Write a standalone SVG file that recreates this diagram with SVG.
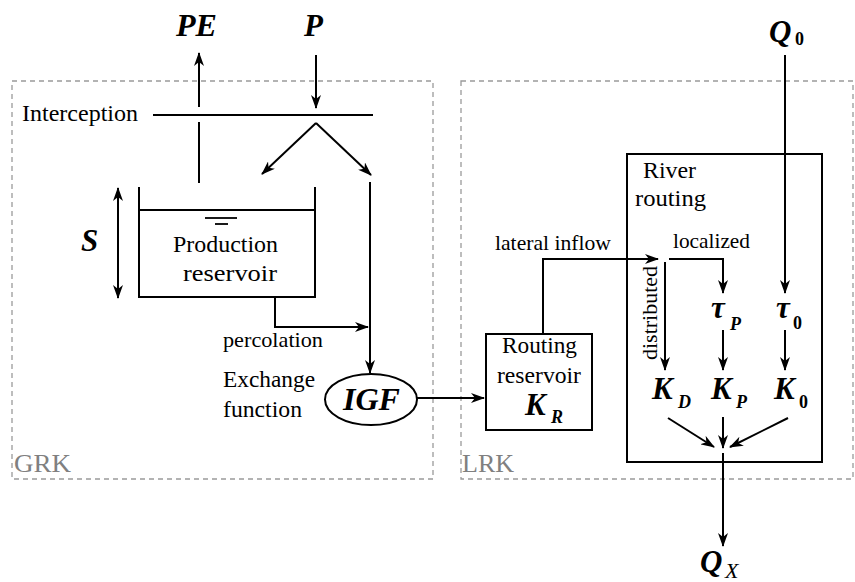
<svg xmlns="http://www.w3.org/2000/svg" width="855" height="582" viewBox="0 0 855 582">
<style>
text{font-family:"Liberation Serif","DejaVu Serif","Noto Serif",serif}
.t{font-size:24px;fill:#000}
.s{font-size:22px;fill:#000}
.m{font-size:31px;font-weight:bold;font-style:italic;fill:#000}
.sub{font-size:18px;font-weight:bold;font-style:italic;fill:#000}
.subn{font-size:18px;font-weight:bold;fill:#000}
.xi{font-size:22px;font-style:italic;fill:#000}
.g{font-size:26px;fill:#808080}
.dash{fill:none;stroke:#9a9a9a;stroke-width:1.3;stroke-dasharray:5,4}
.ln{fill:none;stroke:#000;stroke-width:2}
.box{fill:#fff;stroke:#000;stroke-width:2}
.ar{fill:none;stroke:#000;stroke-width:2;marker-end:url(#ah)}
</style>
<defs>
<marker id="ah" viewBox="0 0 14 10" refX="13" refY="5" markerWidth="14" markerHeight="10" markerUnits="userSpaceOnUse" orient="auto-start-reverse">
<path d="M0,0 L14,5 L0,10 L4,5 Z" fill="#000"/>
</marker>
</defs>
<rect width="855" height="582" fill="#fff"/>

<g id="GRK">
<rect class="dash" x="12" y="81" width="421" height="398"/>
<text class="g" x="14" y="472" textLength="57" lengthAdjust="spacingAndGlyphs">GRK</text>
</g>
<g id="LRK">
<rect class="dash" x="461" y="81" width="392" height="398"/>
<text class="g" x="462" y="472" textLength="52" lengthAdjust="spacingAndGlyphs">LRK</text>
</g>

<g id="PE"><text class="m" x="176" y="36" textLength="41" lengthAdjust="spacingAndGlyphs">PE</text></g>
<g id="P"><text class="m" x="304" y="36">P</text></g>
<g id="Q0"><text class="m" x="769" y="42">Q</text><text class="subn" x="795" y="45">0</text></g>

<g id="interception">
<text class="t" x="22" y="121" textLength="116" lengthAdjust="spacingAndGlyphs">Interception</text>
<line class="ln" x1="153" y1="115" x2="373" y2="115"/>
</g>

<g id="production-reservoir">
<polyline class="ln" points="139,187 139,297 315,297 315,187"/>
<line class="ln" x1="139" y1="210" x2="315" y2="210"/>
<line x1="205" y1="218" x2="237" y2="218" stroke="#000" stroke-width="1.8"/>
<line x1="215" y1="224" x2="228" y2="224" stroke="#000" stroke-width="1.8"/>
<text class="t" x="173" y="252" textLength="105" lengthAdjust="spacingAndGlyphs">Production</text>
<text class="t" x="183" y="281" textLength="94" lengthAdjust="spacingAndGlyphs">reservoir</text>
</g>

<g id="S"><text class="m" x="81" y="251">S</text></g>

<g id="IGF">
<ellipse cx="371" cy="399.5" rx="46" ry="25.5" class="box"/>
<text class="m" x="343" y="410" textLength="57" lengthAdjust="spacingAndGlyphs">IGF</text>
<text class="t" x="223" y="387" textLength="92" lengthAdjust="spacingAndGlyphs">Exchange</text>
<text class="t" x="223" y="417" textLength="79" lengthAdjust="spacingAndGlyphs">function</text>
</g>

<g id="routing-reservoir">
<rect class="box" x="486" y="334" width="106" height="96"/>
<text class="t" x="502" y="353" textLength="75" lengthAdjust="spacingAndGlyphs">Routing</text>
<text class="t" x="497" y="383" textLength="84" lengthAdjust="spacingAndGlyphs">reservoir</text>
<text class="m" x="525" y="415">K</text><text class="sub" x="551" y="423">R</text>
</g>

<g id="river-routing">
<rect class="ln" x="627" y="154" width="195" height="308"/>
<text class="t" x="643" y="178" textLength="53" lengthAdjust="spacingAndGlyphs">River</text>
<text class="t" x="635" y="206" textLength="71" lengthAdjust="spacingAndGlyphs">routing</text>
</g>

<g id="tauP"><text class="m" x="711" y="318">τ</text><text class="sub" x="730" y="330">P</text></g>
<g id="tau0"><text class="m" x="776" y="318">τ</text><text class="subn" x="793" y="329">0</text></g>
<g id="KD"><text class="m" x="652" y="399">K</text><text class="sub" x="678" y="408">D</text></g>
<g id="KP"><text class="m" x="711" y="399">K</text><text class="sub" x="736" y="408">P</text></g>
<g id="K0"><text class="m" x="774" y="399">K</text><text class="subn" x="799" y="408">0</text></g>
<g id="QX"><text class="m" x="700" y="572">Q</text><text class="xi" x="725" y="578">X</text></g>

<g id="connectors">
<line class="ar" x1="199" y1="107" x2="199" y2="53"/>
<line class="ln" x1="199" y1="122" x2="199" y2="183"/>
<line class="ar" x1="316" y1="55" x2="316" y2="108"/>
<line class="ar" x1="316" y1="123" x2="262" y2="174"/>
<line class="ar" x1="316" y1="123" x2="371" y2="175"/>
<line class="ar" x1="370" y1="182" x2="370" y2="373"/>
<line x1="118" y1="188" x2="118" y2="298" class="ln" marker-start="url(#ah)" marker-end="url(#ah)"/>
<polyline class="ar" points="275,297 275,327 368,327"/>
<text class="s" x="223" y="347" textLength="100" lengthAdjust="spacingAndGlyphs">percolation</text>
<line class="ar" x1="417" y1="398" x2="484" y2="398"/>
<polyline class="ar" points="543,334 543,259 658,259"/>
<text class="s" x="495" y="250" textLength="116" lengthAdjust="spacingAndGlyphs">lateral inflow</text>
<polyline class="ar" points="669,259 723,259 723,293"/>
<text class="s" x="673" y="248" textLength="77" lengthAdjust="spacingAndGlyphs">localized</text>
<line class="ar" x1="665" y1="262" x2="665" y2="370"/>
<text class="s" transform="translate(657,360) rotate(-90)" textLength="94" lengthAdjust="spacingAndGlyphs">distributed</text>
<line class="ar" x1="785" y1="55" x2="785" y2="293"/>
<line class="ar" x1="723" y1="330" x2="723" y2="370"/>
<line class="ar" x1="785" y1="330" x2="785" y2="370"/>
<line class="ar" x1="668" y1="418" x2="714" y2="447"/>
<line class="ar" x1="723" y1="417" x2="723" y2="448"/>
<line class="ar" x1="788" y1="418" x2="730" y2="447"/>
<line class="ar" x1="723" y1="453" x2="723" y2="546"/>
</g>
</svg>
